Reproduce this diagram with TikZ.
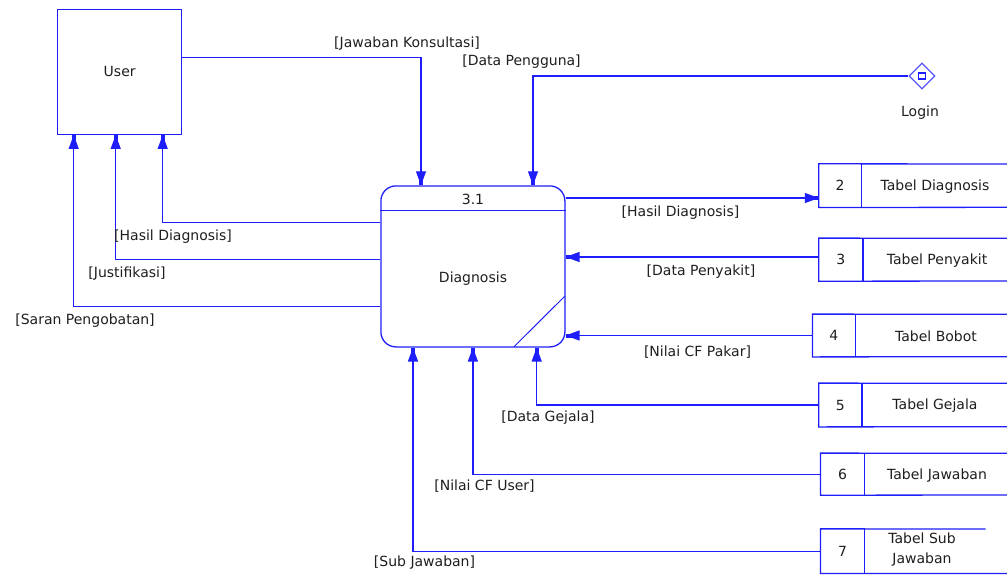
\documentclass[tikz,border=0pt]{standalone}
\usepackage{fontspec}
\setmainfont{DejaVu Sans}
\usetikzlibrary{arrows.meta,shapes.geometric}
\definecolor{flowblue}{RGB}{30,30,250}
\definecolor{ink}{RGB}{30,30,30}
\begin{document}
\begin{tikzpicture}[x=1pt,y=-1pt,
  every node/.style={text=ink,font=\fontsize{14}{16.5}\selectfont,inner sep=0pt},
  line/.style={draw=flowblue,line width=1.3pt},
  flow/.style={line,-{Triangle[length=14pt,width=10pt,sep=-7pt]Rectangle[length=7pt,width=4pt]}},
  entity/.style={line,minimum width=124pt,minimum height=125pt},
  process/.style={line,rounded corners=15pt,minimum width=184pt,minimum height=161pt},
  numcell/.style={minimum height=43pt}
]
\useasboundingbox (0,0) rectangle (1007,574);

% external entity
\node[entity] (user) at (119.7,71.8) {User};

% process 3.1
\node[process] (proc) at (472.9,266.4) {};
\draw[line] (proc.west |- 0,210.7) -- (proc.east |- 0,210.7);
\node (pnum) at (473,199) {3.1};
\node (pname) at (473,279) {Diagnosis};
\draw[draw=flowblue,line width=1pt] (514,346.7) -- (565,296);

% login connector
\node[diamond,draw=flowblue!75,line width=1.2pt,minimum width=26pt,minimum height=26pt,inner sep=0pt] (login) at (922,76) {};
\draw[draw=flowblue,line width=1.2pt] ([xshift=-3.5pt,yshift=-3pt]login.center) rectangle ([xshift=3.5pt,yshift=3pt]login.center);
\node (loginlbl) at (920,113) {Login};

% data stores: number cell plus open-ended text field
\foreach \nm/\lx/\dx/\ty/\by/\num/\tx/\ttext/\rx in {
  s2/819/861/164/207.3/2/935/Tabel Diagnosis/1007,
  s3/819/862.7/238.3/281/3/937/Tabel Penyakit/1007,
  s4/812.7/855/314.3/356.7/4/936/Tabel Bobot/1007,
  s5/819/861.7/383.3/426.7/5/935/Tabel Gejala/1007,
  s6/820.7/864.3/453.3/495/6/937/Tabel Jawaban/1007}{
  \node[minimum width=\dx pt-\lx pt,minimum height=\by pt-\ty pt] (\nm) at ({(\lx+\dx)/2},{(\ty+\by)/2}) {\num};
  \draw[line] (\rx,\ty) -- (\nm.north west) -- (\nm.south west) -- (\rx,\by);
  \draw[line] (\nm.north east) -- (\nm.south east);
  \node (\nm t) at (\tx,{(\ty+\by)/2+1}) {\ttext};
}
\node[minimum width=43.6pt,minimum height=44.3pt] (s7) at (842.5,551.2) {7};
\draw[line] (985.7,529) -- (s7.north west) -- (s7.south west) -- (1007,573.4);
\draw[line] (s7.north east) -- (s7.south east);
\node[align=center,font=\fontsize{14}{20}\selectfont] (s7t) at (922,550) {Tabel Sub\\Jawaban};

% flows from user / login into the process
\draw[flow] ([yshift=14.1pt]user.east) -| ([xshift=-51.9pt]proc.north);
\draw[flow] (login.west) -| ([xshift=60.1pt]proc.north);

% flows from the process back to the user
\draw[flow] ([yshift=43.7pt]proc.west) -| ([xshift=43pt]user.south);
\draw[flow] ([yshift=6.7pt]proc.west) -| ([xshift=-4pt]user.south);
\draw[flow] ([yshift=-39.9pt]proc.west) -| ([xshift=-46pt]user.south);

% flows between process and data stores
\draw[flow] (proc.east |- 0,198) -- (s2.west |- 0,198);
\draw[flow] (s3.west |- 0,257) -- (proc.east |- 0,257);
\draw[flow] (s4.west) -- (s4.west -| proc.east);
\draw[flow] (s5.west) -| ([xshift=63.8pt]proc.south);
\draw[flow] (s6.west) -| ([xshift=0pt]proc.south);
\draw[flow] (s7.west) -| ([xshift=-59.9pt]proc.south);

% flow labels
\node (l1) at (407,44) {[Jawaban Konsultasi]};
\node (l2) at (521.5,62) {[Data Pengguna]};
\node (l3) at (173,237) {[Hasil Diagnosis]};
\node (l4) at (127,274) {[Justifikasi]};
\node (l5) at (85,321) {[Saran Pengobatan]};
\node (l6) at (680.5,213) {[Hasil Diagnosis]};
\node (l7) at (701,272) {[Data Penyakit]};
\node (l8) at (697.5,352) {[Nilai CF Pakar]};
\node (l9) at (548,418) {[Data Gejala]};
\node (l10) at (484.5,486) {[Nilai CF User]};
\node (l11) at (424.5,563) {[Sub Jawaban]};
\end{tikzpicture}
\end{document}
